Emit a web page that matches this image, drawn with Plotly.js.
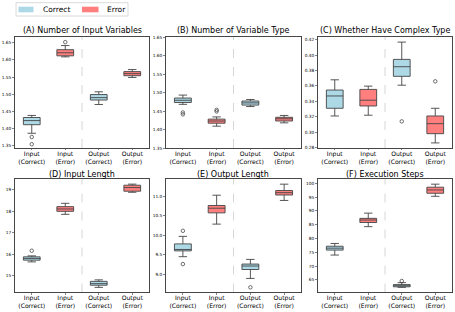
<!DOCTYPE html>
<html><head><meta charset="utf-8">
<script src="https://cdn.plot.ly/plotly-3.0.1.min.js"></script>
<style>html,body{margin:0;padding:0;background:#fff}#chart{width:455px;height:312px}</style>
</head><body><div id="chart"></div>
<script>
const categories = ["Input<br>(Correct)", "Input<br>(Error)", "Output<br>(Correct)", "Output<br>(Error)"];
const panelTitles = ["(A) Number of Input Variables", "(B) Number of Variable Type", "(C) Whether Have Complex Type",
                     "(D) Input Length", "(E) Output Length", "(F) Execution Steps"];
const seriesNames = ["Correct", "Error"];
// each row = one panel, columns = [Input(Correct), Input(Error), Output(Correct), Output(Error)]
const lowerFence = [
  [1.386, 1.609, 1.470, 1.549],
  [1.468, 1.409, 1.462, 1.418],
  [0.321, 0.322, 0.361, 0.286],
  [15.64, 17.86, 14.45, 18.89],
  [9.45, 10.29, 8.89, 10.90],
  [74.0, 84.3, 62.3, 95.3]
];
const q1 = [
  [1.411, 1.612, 1.483, 1.554],
  [1.473, 1.417, 1.466, 1.423],
  [0.331, 0.334, 0.3725, 0.298],
  [15.72, 18.00, 14.55, 18.94],
  [9.60, 10.58, 9.12, 11.04],
  [75.8, 85.8, 62.5, 96.4]
];
const median = [
  [1.423, 1.621, 1.490, 1.560],
  [1.479, 1.423, 1.472, 1.429],
  [0.347, 0.3415, 0.385, 0.311],
  [15.80, 18.11, 14.625, 19.11],
  [9.636, 10.70, 9.21, 11.10],
  [76.5, 86.7, 62.9, 97.6]
];
const q3 = [
  [1.432, 1.630, 1.499, 1.566],
  [1.485, 1.428, 1.477, 1.433],
  [0.3547, 0.3555, 0.3945, 0.321],
  [15.875, 18.22, 14.73, 19.22],
  [9.78, 10.77, 9.26, 11.156],
  [77.2, 87.3, 63.3, 98.6]
];
const upperFence = [
  [1.438, 1.642, 1.507, 1.572],
  [1.493, 1.434, 1.481, 1.438],
  [0.368, 0.3598, 0.417, 0.331],
  [15.92, 18.375, 14.80, 19.27],
  [9.974, 11.035, 9.38, 11.32],
  [78.2, 89.2, 64.0, 99.7]
];
const outlierCat = [[0, 0, 1], [0, 0, 1, 1], [2, 3], [0], [0, 0, 2], [2]];
const outlierVal = [
  [1.375, 1.354, 1.652],
  [1.446, 1.441, 1.453, 1.449],
  [0.314, 0.366],
  [16.16],
  [10.117, 9.26, 8.66],
  [64.6]
];
const yTickVals = [
  [1.35, 1.40, 1.45, 1.50, 1.55, 1.60, 1.65],
  [1.35, 1.40, 1.45, 1.50, 1.55, 1.60, 1.65],
  [0.28, 0.30, 0.32, 0.34, 0.36, 0.38, 0.40, 0.42],
  [15, 16, 17, 18, 19],
  [9.0, 9.5, 10.0, 10.5, 11.0],
  [65, 70, 75, 80, 85, 90, 95, 100]
];
const yDecimals = [2, 2, 2, 0, 1, 0];

const yRanges = [[1.343, 1.667], [1.35, 1.65], [0.2794, 0.4236], [14.21, 19.51], [8.527, 11.453], [60.43, 101.57]];
const colorsFill = ["#ADD8E6", "#FF7F7F"];
const W = 455, H = 312;
const colPx = [[15, 149], [166, 301], [318, 452]];
const rowPx = [[37, 148], [179, 292.5]];
const titleYPx = [31, 174];

const traces = [];
const layout = {
  width: W, height: H,
  margin: {l: 0, r: 0, t: 0, b: 0},
  paper_bgcolor: "#fff", plot_bgcolor: "#fff",
  font: {family: "DejaVu Sans", color: "#000"},
  showlegend: false,
  annotations: [], shapes: []
};

for (let p = 0; p < 6; p++) {
  const r = Math.floor(p / 3), c = p % 3;
  const sfx = p === 0 ? "" : String(p + 1);
  const xa = "x" + sfx, ya = "y" + sfx;
  for (let s = 0; s < 2; s++) {
    const idx = [s, s + 2];
    traces.push({
      type: "box", xaxis: xa, yaxis: ya,
      name: seriesNames[s], legendgroup: seriesNames[s],
      x: idx,
      q1: idx.map(i => q1[p][i]),
      median: idx.map(i => median[p][i]),
      q3: idx.map(i => q3[p][i]),
      lowerfence: idx.map(i => lowerFence[p][i]),
      upperfence: idx.map(i => upperFence[p][i]),
      width: 0.5, whiskerwidth: 0.5, boxpoints: false,
      fillcolor: colorsFill[s], line: {color: "#444444", width: 0.9},
      hoverinfo: "skip"
    });
  }
  traces.push({
    type: "scatter", mode: "markers", xaxis: xa, yaxis: ya, showlegend: false,
    x: outlierCat[p], y: outlierVal[p],
    marker: {symbol: "circle-open", size: 3.5, color: "#333333", line: {width: 0.7}},
    hoverinfo: "skip"
  });
  const xd = [colPx[c][0] / W, colPx[c][1] / W];
  const yd = [1 - rowPx[r][1] / H, 1 - rowPx[r][0] / H];
  layout["xaxis" + sfx] = {
    domain: xd, anchor: ya, range: [-0.5, 3.5],
    tickmode: "array", tickvals: [0, 1, 2, 3], ticktext: categories,
    tickfont: {size: 6.1}, ticks: "outside", ticklen: 1.5, tickwidth: 0.6, tickcolor: "#333",
    ticklabelstandoff: -2,
    showline: true, mirror: true, linecolor: "#333333", linewidth: 0.9,
    showgrid: false, zeroline: false, fixedrange: true
  };
  layout["yaxis" + sfx] = {
    domain: yd, anchor: xa, range: yRanges[p],
    tickmode: "array", tickvals: yTickVals[p], ticktext: yTickVals[p].map(v => v.toFixed(yDecimals[p])),
    tickfont: {size: 4.3}, ticks: "outside", ticklen: 2, tickwidth: 0.6, tickcolor: "#333",
    showline: true, mirror: true, linecolor: "#333333", linewidth: 0.9,
    showgrid: false, zeroline: false, fixedrange: true
  };
  layout.shapes.push({
    type: "line", xref: xa, yref: ya + " domain", x0: 1.5, x1: 1.5, y0: 0, y1: 1,
    line: {color: "#cccccc", width: 0.8, dash: "dash"}, layer: "below"
  });
  layout.annotations.push({
    xref: "paper", yref: "paper", x: (xd[0] + xd[1]) / 2, y: 1 - titleYPx[r] / H,
    xanchor: "center", yanchor: "middle", showarrow: false,
    text: panelTitles[p], font: {size: 8, color: "#000"}
  });
}

// legend (frame, colour patches and labels)
const px = v => v / W, py = v => 1 - v / H;
layout.shapes.push({type: "rect", xref: "paper", yref: "paper", x0: px(16), x1: px(128), y0: py(16), y1: py(2.7),
  line: {color: "#d0d0d0", width: 0.8}, fillcolor: "rgba(255,255,255,0.8)"});
const legPatchX = [[18.5, 33.5], [82, 98.5]];
const legTextX = [40.5, 105];
for (let s = 0; s < 2; s++) {
  layout.shapes.push({type: "rect", xref: "paper", yref: "paper",
    x0: px(legPatchX[s][0]), x1: px(legPatchX[s][1]), y0: py(12.3), y1: py(6.7),
    line: {width: 0}, fillcolor: colorsFill[s]});
  layout.annotations.push({xref: "paper", yref: "paper", x: px(legTextX[s]), y: py(9.5),
    xanchor: "left", yanchor: "middle", showarrow: false, text: seriesNames[s],
    font: {size: 7.5, color: "#000"}});
}

Plotly.newPlot("chart", traces, layout, {staticPlot: true, displayModeBar: false});
</script>
</body></html>
